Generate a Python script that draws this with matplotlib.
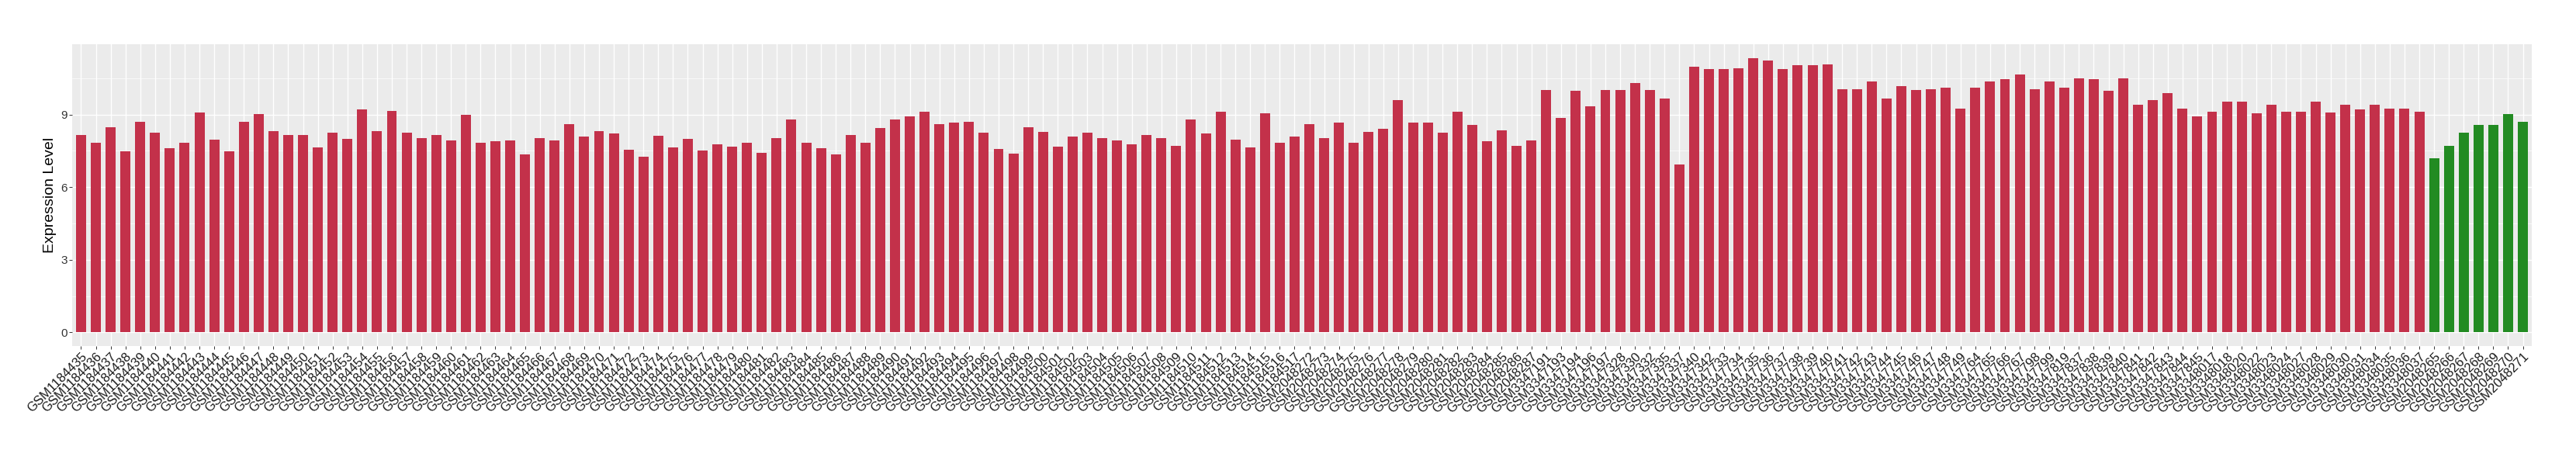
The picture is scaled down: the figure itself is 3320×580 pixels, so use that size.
import matplotlib
matplotlib.use("Agg")
import matplotlib.pyplot as plt
from matplotlib.ticker import FixedLocator

plt.rcParams['font.family'] = ['Liberation Sans', 'DejaVu Sans']

# sample ids, in plot order
ids_1184 = list(range(1184435, 1184518))
ids_2048_a = list(range(2048272, 2048288))
ids_3347 = ([3347191, 3347193, 3347194, 3347196, 3347197, 3347328, 3347330,
             3347332, 3347335, 3347337, 3347340, 3347342]
            + list(range(3347733, 3347750))
            + [3347764, 3347765, 3347766, 3347767, 3347798, 3347799, 3347819]
            + list(range(3347837, 3347846)))
ids_3348 = [3348017, 3348018, 3348020, 3348022, 3348023, 3348024, 3348027,
            3348028, 3348029, 3348030, 3348031, 3348034, 3348035, 3348036,
            3348037]
ids_normal = list(range(2048265, 2048272))

# expression values
vals_1184 = [8.15, 7.83, 8.49, 7.48, 8.69, 8.24, 7.61, 7.85, 9.07, 7.95,
             7.48, 8.69, 9.01, 8.30, 8.15, 8.17, 7.63, 8.24, 7.98, 9.20,
             8.30, 9.16, 8.24, 8.02, 8.15, 7.93,
             8.98, 7.83, 7.89, 7.93, 7.35, 8.04, 7.93, 8.59, 8.08, 8.30,
             8.21, 7.54, 7.25, 8.11, 7.63, 7.98, 7.51, 7.76, 7.67, 7.83,
             7.41, 8.04, 8.79, 7.83, 7.61, 7.35, 8.17,
             7.83, 8.43, 8.81, 8.94, 9.11, 8.62, 8.66, 8.69, 8.24, 7.57,
             7.38, 8.47, 8.27, 7.67, 8.08, 8.24, 8.02, 7.93, 7.76, 8.17,
             8.02, 7.70, 8.79, 8.21, 9.13, 7.95, 7.63, 9.04, 7.85, 8.08]
vals_2048_a = [8.62, 8.04, 8.66, 7.83, 8.27, 8.40, 9.61, 8.66, 8.66, 8.24,
               9.13, 8.56, 7.89, 8.34, 7.72, 7.93]
vals_3347 = [10.03, 8.85, 9.97, 9.35, 10.03, 10.03, 10.29, 10.03, 9.67, 6.93,
             10.98, 10.89, 10.89, 10.92, 11.34, 11.24, 10.89, 11.05, 11.05, 11.08,
             10.06, 10.06, 10.38, 9.67, 10.19, 10.03, 10.06, 10.12, 9.26, 10.12,
             10.38, 10.48, 10.66, 10.06, 10.38, 10.10, 10.51, 10.48, 9.99, 10.51,
             9.42, 9.61, 9.90, 9.24, 8.94]
vals_3348 = [9.11, 9.52, 9.55, 9.04, 9.42, 9.13, 9.11, 9.52, 9.07, 9.42,
             9.20, 9.42, 9.24, 9.26, 9.13]
vals_normal = [7.18, 7.70, 8.24, 8.56, 8.56, 9.01, 8.69]

red = "#C3314A"
green = "#228B22"

ids = ids_1184 + ids_2048_a + ids_3347 + ids_3348 + ids_normal
values = vals_1184 + vals_2048_a + vals_3347 + vals_3348 + vals_normal
n_tumor = len(ids) - len(ids_normal)
colors = [red] * n_tumor + [green] * len(ids_normal)
labels = ["GSM%d" % i for i in ids]
x = list(range(len(values)))

W, H = 3320, 580
fig = plt.figure(figsize=(W / 100, H / 100), dpi=100)
left, right, top, bottom = 93, 3263, 57, 446
ax = fig.add_axes([left / W, 1 - bottom / H, (right - left) / W, (bottom - top) / H])

ax.set_facecolor("#EBEBEB")
ax.bar(x, values, width=0.68, color=colors, zorder=3)

vmax = max(values)
ax.set_xlim(-0.6, len(values) - 0.4)
ax.set_ylim(-0.05 * vmax, 1.05 * vmax)

ax.yaxis.set_major_locator(FixedLocator([0, 3, 6, 9]))
ax.yaxis.set_minor_locator(FixedLocator([1.5, 4.5, 7.5, 10.5]))
ax.set_xticks(x)
ax.set_xticklabels(labels, rotation=45, ha="right", va="top",
                   rotation_mode="anchor", fontsize=12, color="#1A1A1A")
ax.tick_params(axis="y", labelsize=11, labelcolor="#333333")
ax.tick_params(which="major", length=2.7, width=0.7, color="#333333", pad=1.5)
ax.tick_params(which="minor", length=0)

ax.grid(which="major", color="white", linewidth=1.0, zorder=1)
ax.grid(which="minor", axis="y", color="white", linewidth=0.5, zorder=1)
ax.set_axisbelow(True)
for s in ax.spines.values():
    s.set_visible(False)

ax.set_ylabel("Expression Level", fontsize=14, color="black")
ax.yaxis.set_label_coords(-0.0063, 0.5)

fig.savefig("out.png", dpi=100)
